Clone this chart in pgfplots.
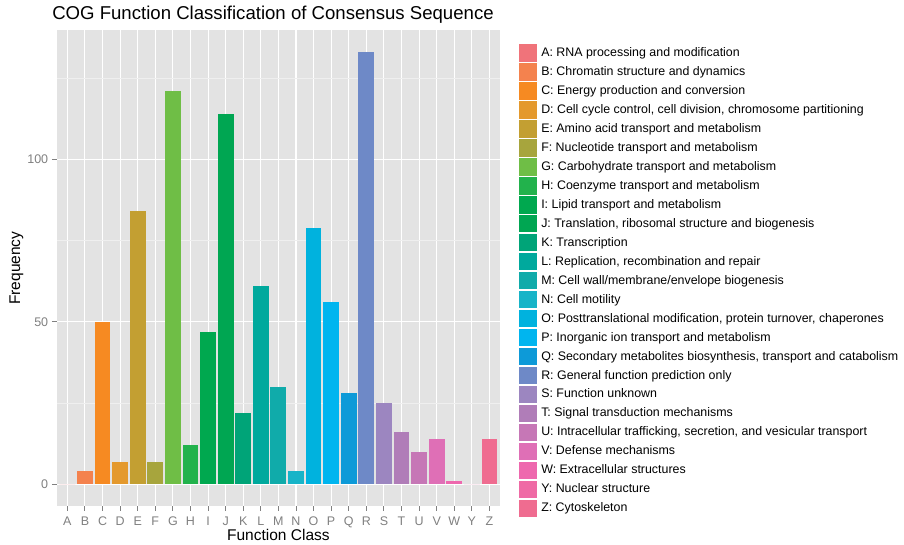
\documentclass[border=0pt]{standalone}
\usepackage{pgfplots}
\pgfplotsset{compat=1.18}
\usepackage{fontspec}
\setmainfont{Liberation Sans}
\definecolor{panelgrey}{HTML}{E3E3E3}
\definecolor{gridminor}{HTML}{EFEFEF}
\definecolor{tickgrey}{HTML}{808080}
\definecolor{cA}{HTML}{F0737A}
\definecolor{cB}{HTML}{F4824E}
\definecolor{cC}{HTML}{F68A22}
\definecolor{cD}{HTML}{E4992D}
\definecolor{cE}{HTML}{C39F32}
\definecolor{cF}{HTML}{A7A53D}
\definecolor{cG}{HTML}{6FBE46}
\definecolor{cH}{HTML}{22B24C}
\definecolor{cI}{HTML}{00A84F}
\definecolor{cJ}{HTML}{00A652}
\definecolor{cK}{HTML}{00A478}
\definecolor{cL}{HTML}{00A99D}
\definecolor{cM}{HTML}{10ABAA}
\definecolor{cN}{HTML}{17B4C8}
\definecolor{cO}{HTML}{00B2DE}
\definecolor{cP}{HTML}{00B5EF}
\definecolor{cQ}{HTML}{0D9AD8}
\definecolor{cR}{HTML}{6E89C7}
\definecolor{cS}{HTML}{9C86C0}
\definecolor{cT}{HTML}{B07DB8}
\definecolor{cU}{HTML}{C677B6}
\definecolor{cV}{HTML}{DF6FB6}
\definecolor{cW}{HTML}{EE68AE}
\definecolor{cY}{HTML}{EF6AA5}
\definecolor{cZ}{HTML}{EF6C90}
\pgfplotsset{mybar/.style={ybar, bar width=0.9, bar shift=0pt, draw=none, fill=#1}}
\begin{document}
\begin{tikzpicture}
\useasboundingbox (0,0) rectangle (904pt,544pt);
\begin{axis}[
  at={(56.8pt,38.1pt)}, anchor=south west,
  scale only axis, width=443.2pt, height=475.5pt,
  xmin=-0.6, xmax=24.6, ymin=-6.65, ymax=139.65,
  xtick={0,...,24},
  xticklabels={A,B,C,D,E,F,G,H,I,J,K,L,M,N,O,P,Q,R,S,T,U,V,W,Y,Z},
  ytick={0,50,100}, minor ytick={25,75,125},
  xtick pos=left, ytick pos=left,
  tick align=outside, major tick length=5pt, minor tick length=0pt,
  tick style={color=tickgrey, line width=0.9pt},
  xmajorgrids, ymajorgrids, yminorgrids,
  major grid style={white, line width=1.1pt},
  minor grid style={gridminor, line width=0.7pt},
  axis line style={draw=none},
  axis background/.style={fill=panelgrey},
  ticklabel style={font=\fontsize{12.5}{14}\selectfont, text=tickgrey},
  /pgf/number format/assume math mode=true,
  xticklabel style={anchor=north, inner sep=0pt, yshift=-6pt},
  yticklabel style={anchor=east, inner sep=0pt, xshift=-3.4pt},
  title={COG Function Classification of Consensus Sequence},
  title style={at={(axis description cs:0.4878,1.0093)}, anchor=base, font=\fontsize{18.6}{20}\selectfont, inner sep=0pt},
  xlabel={Function Class},
  xlabel style={at={(axis description cs:0.5,-0.0738)}, anchor=base, font=\fontsize{15.5}{17}\selectfont, inner sep=0pt},
  ylabel={Frequency},
  ylabel style={at={(axis description cs:-0.0909,0.5)}, anchor=center, font=\fontsize{15.5}{17}\selectfont, inner sep=0pt},
  legend style={at={(axis description cs:1.0413,0.9729)}, anchor=north west, draw=none, fill=none,
    inner sep=0pt, outer sep=0pt, row sep=0pt,
    font=\fontsize{12.4}{14}\selectfont,
    nodes={inner sep=0pt, outer sep=0pt, minimum height=18.47pt, anchor=west},
    /tikz/every odd column/.append style={column sep=4pt}},
  legend cell align=left,
  legend image code/.code={\draw[#1, draw=white, line width=0.5pt] (0pt,-9.235pt) rectangle (18.47pt,9.235pt);},
]
\addplot[mybar=cA] coordinates {(0,0)}; \addlegendentry{A: RNA processing and modification}
\addplot[mybar=cB] coordinates {(1,4)}; \addlegendentry{B: Chromatin structure and dynamics}
\addplot[mybar=cC] coordinates {(2,50)}; \addlegendentry{C: Energy production and conversion}
\addplot[mybar=cD] coordinates {(3,7)}; \addlegendentry{D: Cell cycle control, cell division, chromosome partitioning}
\addplot[mybar=cE] coordinates {(4,84)}; \addlegendentry{E: Amino acid transport and metabolism}
\addplot[mybar=cF] coordinates {(5,7)}; \addlegendentry{F: Nucleotide transport and metabolism}
\addplot[mybar=cG] coordinates {(6,121)}; \addlegendentry{G: Carbohydrate transport and metabolism}
\addplot[mybar=cH] coordinates {(7,12)}; \addlegendentry{H: Coenzyme transport and metabolism}
\addplot[mybar=cI] coordinates {(8,47)}; \addlegendentry{I: Lipid transport and metabolism}
\addplot[mybar=cJ] coordinates {(9,114)}; \addlegendentry{J: Translation, ribosomal structure and biogenesis}
\addplot[mybar=cK] coordinates {(10,22)}; \addlegendentry{K: Transcription}
\addplot[mybar=cL] coordinates {(11,61)}; \addlegendentry{L: Replication, recombination and repair}
\addplot[mybar=cM] coordinates {(12,30)}; \addlegendentry{M: Cell wall/membrane/envelope biogenesis}
\addplot[mybar=cN] coordinates {(13,4)}; \addlegendentry{N: Cell motility}
\addplot[mybar=cO] coordinates {(14,79)}; \addlegendentry{O: Posttranslational modification, protein turnover, chaperones}
\addplot[mybar=cP] coordinates {(15,56)}; \addlegendentry{P: Inorganic ion transport and metabolism}
\addplot[mybar=cQ] coordinates {(16,28)}; \addlegendentry{Q: Secondary metabolites biosynthesis, transport and catabolism}
\addplot[mybar=cR] coordinates {(17,133)}; \addlegendentry{R: General function prediction only}
\addplot[mybar=cS] coordinates {(18,25)}; \addlegendentry{S: Function unknown}
\addplot[mybar=cT] coordinates {(19,16)}; \addlegendentry{T: Signal transduction mechanisms}
\addplot[mybar=cU] coordinates {(20,10)}; \addlegendentry{U: Intracellular trafficking, secretion, and vesicular transport}
\addplot[mybar=cV] coordinates {(21,14)}; \addlegendentry{V: Defense mechanisms}
\addplot[mybar=cW] coordinates {(22,1)}; \addlegendentry{W: Extracellular structures}
\addplot[mybar=cY] coordinates {(23,0)}; \addlegendentry{Y: Nuclear structure}
\addplot[mybar=cZ] coordinates {(24,14)}; \addlegendentry{Z: Cytoskeleton}
\end{axis}
\end{tikzpicture}
\end{document}
